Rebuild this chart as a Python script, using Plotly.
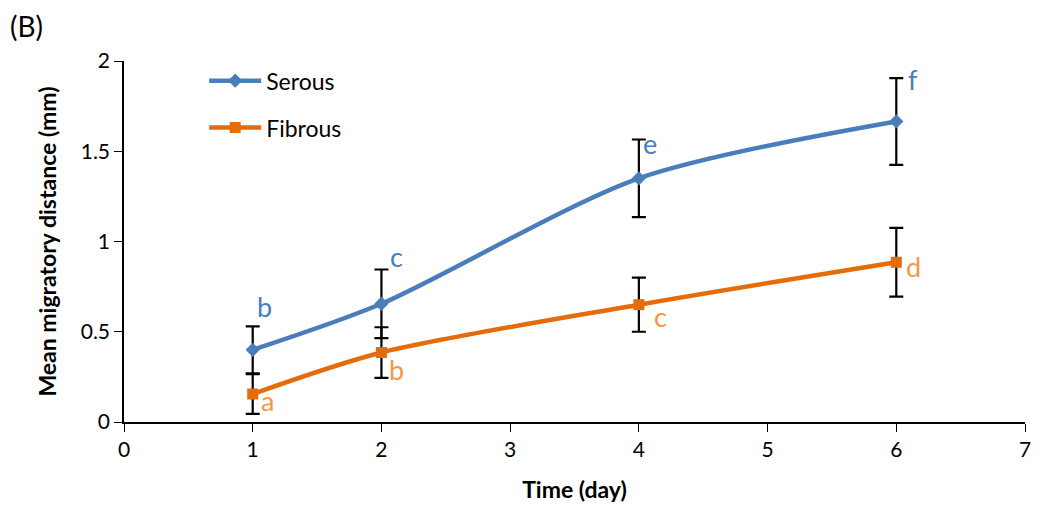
import plotly.graph_objects as go

days = [1, 2, 4, 6]
serous = [0.40, 0.655, 1.35, 1.665]
serous_err = [0.13, 0.19, 0.215, 0.24]
fibrous = [0.155, 0.385, 0.65, 0.885]
fibrous_err = [0.11, 0.14, 0.15, 0.19]
serous_letters = ["b", "c", "e", "f"]
fibrous_letters = ["a", "b", "c", "d"]

# label offsets (pixels) relative to points
serous_dx = [12, 15, 11, 17]
serous_dy = [43, 47, 35, 42]
fibrous_dx = [15, 15, 22, 17]
fibrous_dy = [-6, -17, -12, -4]

blue = "#4a7ebb"
orange = "#e46c0a"
blue_txt = "#4a7ebb"
orange_txt = "#f79646"
font = "Lato"

fig = go.Figure()
fig.add_trace(go.Scatter(
    x=days, y=serous, name="Serous", mode="lines+markers", legendgroup="s",
    line=dict(color=blue, width=4.5, shape="spline", smoothing=0.8),
    marker=dict(symbol="diamond", size=11, color=blue),
    error_y=dict(type="data", array=serous_err, color="black", thickness=2.2, width=7),
))
fig.add_trace(go.Scatter(
    x=days, y=fibrous, name="Fibrous", mode="lines+markers", legendgroup="f",
    line=dict(color=orange, width=4.5, shape="spline", smoothing=0.8),
    marker=dict(symbol="square", size=11, color=orange),
    error_y=dict(type="data", array=fibrous_err, color="black", thickness=2.2, width=7),
))

for x, y, t, dx, dy in zip(days, serous, serous_letters, serous_dx, serous_dy):
    fig.add_annotation(x=x, y=y, text=t, showarrow=False, xshift=dx, yshift=dy,
                       font=dict(family=font, size=27, color=blue_txt))
for x, y, t, dx, dy in zip(days, fibrous, fibrous_letters, fibrous_dx, fibrous_dy):
    fig.add_annotation(x=x, y=y, text=t, showarrow=False, xshift=dx, yshift=dy,
                       font=dict(family=font, size=27, color=orange_txt))

fig.add_annotation(x=0, y=1, xref="paper", yref="paper", xshift=-116, yshift=54,
                   text="(B)", showarrow=False, xanchor="left", yanchor="top",
                   font=dict(family=font, size=28, color="black"))

fig.update_layout(
    width=1035, height=503,
    margin=dict(l=116, r=15, t=53, b=87),
    plot_bgcolor="white", paper_bgcolor="white",
    font=dict(family=font, size=21, color="black"),
    showlegend=True,
    legend=dict(x=0.089, y=1.005, xanchor="left", yanchor="top",
                bgcolor="rgba(0,0,0,0)", font=dict(family=font, size=23),
                itemwidth=52, tracegroupgap=14),
    xaxis=dict(range=[0, 7], dtick=1, showline=True, linecolor="black", linewidth=1.5,
               ticks="outside", ticklen=8, tickcolor="black", showgrid=False, zeroline=False,
               tickfont=dict(size=21),
               title=dict(text="<b>Time (day)</b>", font=dict(family=font, size=23), standoff=22)),
    yaxis=dict(range=[0, 2], dtick=0.5, showline=True, linecolor="black", linewidth=1.5,
               ticks="outside", ticklen=8, tickcolor="black", showgrid=False, zeroline=False,
               tickfont=dict(size=21),
               title=dict(text="<b>Mean migratory distance (mm)</b>", font=dict(family=font, size=23), standoff=18)),
)

fig.write_html("out.html")
